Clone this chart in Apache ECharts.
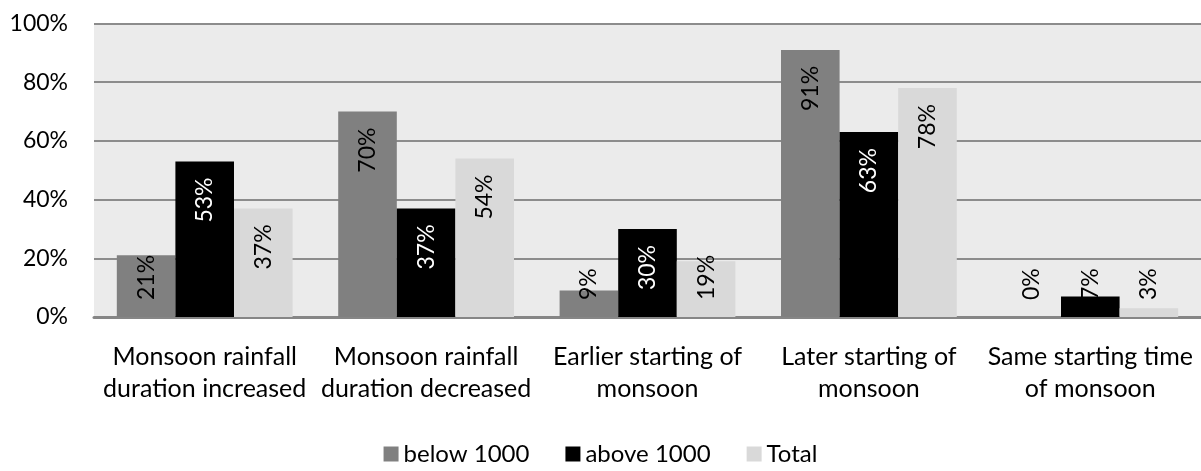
<!DOCTYPE html>
<html>
<head>
<meta charset="utf-8">
<script src="https://cdn.jsdelivr.net/npm/echarts@6/dist/echarts.min.js"></script>
<style>
  html, body { margin: 0; padding: 0; background: #fff; }
  #main { width: 1201px; height: 471px; }
</style>
</head>
<body>
<div id="main"></div>
<script>
var categories = [
  "Monsoon rainfall\nduration increased",
  "Monsoon rainfall\nduration decreased",
  "Earlier starting of\nmonsoon",
  "Later starting of\nmonsoon",
  "Same starting time\nof monsoon"
];
var below1000 = [21, 70, 9, 91, 0];
var above1000 = [53, 37, 30, 63, 7];
var total = [37, 54, 19, 78, 3];
var yTicks = [0, 20, 40, 60, 80, 100];

var chartDom = document.getElementById("main");
var myChart = echarts.init(chartDom);
var font = "Lato";

// Excel style "inside end" labels: short bars get the label pushed up from the base
function makeData(values, textColor) {
  return values.map(function (v) {
    var small = v < 26;
    return {
      value: v,
      label: {
        show: true,
        rotate: 90,
        position: small ? "insideBottom" : "insideTop",
        distance: small ? 17 : 16,
        align: small ? "left" : "right",
        verticalAlign: "middle",
        color: small && v < 10 ? "#000" : textColor,
        fontFamily: font,
        fontSize: 23,
        formatter: "{c}%"
      }
    };
  });
}

function bar(name, values, color, textColor) {
  return {
    name: name,
    type: "bar",
    barGap: "0%",
    barCategoryGap: "20.6%",
    itemStyle: { color: color },
    data: makeData(values, textColor)
  };
}

var option = {
  animation: false,
  grid: {
    left: 94,
    right: -8,
    top: 23.5,
    bottom: 154,
    show: true,
    backgroundColor: "#ebebeb",
    borderWidth: 0
  },
  legend: {
    bottom: 0,
    left: "center",
    itemWidth: 15,
    itemHeight: 15,
    itemGap: 36,
    icon: "rect",
    textStyle: { fontFamily: font, fontSize: 24, color: "#000" },
    data: ["below 1000", "above 1000", "Total"]
  },
  xAxis: {
    type: "category",
    data: categories,
    axisLine: { lineStyle: { color: "#868686", width: 3 } },
    axisTick: { show: false },
    axisLabel: {
      fontFamily: font,
      fontSize: 25,
      color: "#000",
      lineHeight: 32,
      margin: 24,
      interval: 0
    }
  },
  yAxis: {
    type: "value",
    min: yTicks[0],
    max: yTicks[yTicks.length - 1],
    interval: 20,
    axisLine: { show: false },
    axisTick: { show: false },
    axisLabel: {
      fontFamily: font,
      fontSize: 23,
      color: "#000",
      margin: 26,
      formatter: "{value}%"
    },
    splitLine: { lineStyle: { color: "#8c8c8c", width: 2 } }
  },
  series: [
    bar("below 1000", below1000, "#808080", "#000"),
    bar("above 1000", above1000, "#000000", "#fff"),
    bar("Total", total, "#d9d9d9", "#000")
  ]
};

option && myChart.setOption(option);
</script>
</body>
</html>
